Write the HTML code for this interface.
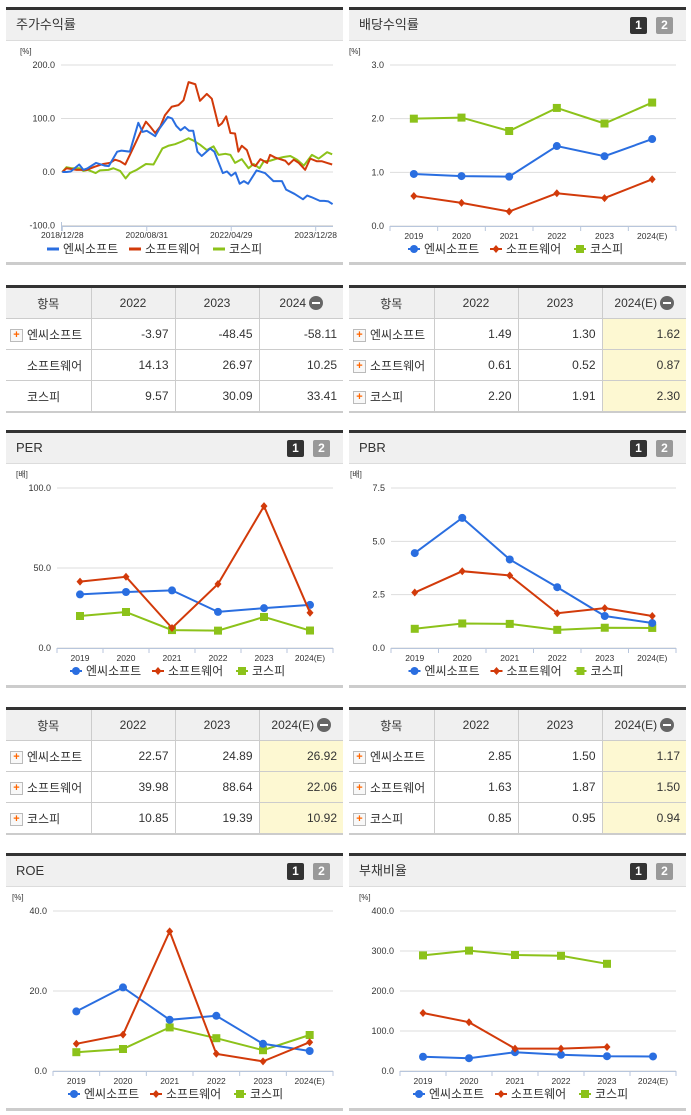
<!DOCTYPE html>
<html><head><meta charset="utf-8">
<style>
body{margin:0;width:691px;height:1115px;position:relative;background:#fff;font-family:"Liberation Sans","Noto Sans CJK KR",sans-serif;overflow:hidden}
.panel{position:absolute;width:337px;height:258px;border-top:3px solid #333;box-sizing:border-box}
.panel .hd{height:30px;background:#f0f0f0;border-bottom:1px solid #dcdcdc;font-size:13px;color:#333;line-height:30px;padding-left:10px;position:relative}
.panel .bt{position:absolute;bottom:0;left:0;right:0;height:3px;background:#ccc}
.btn{position:absolute;top:7px;width:17px;height:17px;font-size:12px;font-weight:bold;color:#fff;text-align:center;line-height:17px;border-radius:2px}
table{position:absolute;width:337px;border-collapse:collapse;table-layout:fixed;font-size:12px;color:#333;border-top:3px solid #333;border-bottom:2px solid #ccc}
th{background:#f0f0f0;font-weight:normal;height:30px;padding:0;border-left:1px solid #ccc;border-bottom:1px solid #ccc;white-space:nowrap}
td{height:30px;padding:0 6px 0 0;border-left:1px solid #ccc;border-bottom:1px solid #ccc;text-align:right;white-space:nowrap;overflow:visible}
th:first-child,td:first-child{border-left:none}
td:first-child{text-align:left;padding-left:4px;padding-right:0}
.hl{background:#fdf8d2}
.plus{display:inline-block;width:11px;height:11px;border:1px solid #bbb;background:#f8f8f8;color:#f60;font-size:11px;line-height:10px;text-align:center;font-weight:bold;vertical-align:middle;margin-right:4px}
.sp{display:inline-block;width:17px}
.minus{display:inline-block;width:14px;height:14px;border-radius:50%;background:#666;vertical-align:middle;position:relative;margin-left:3px}
.minus:after{content:"";position:absolute;left:3px;top:6px;width:8px;height:2px;background:#fff}
svg{position:absolute;left:0;top:0}
</style></head><body>
<div class="panel" style="left:6px;top:7px"><div class="hd">주가수익률</div><div class="bt"></div></div>
<div class="panel" style="left:349px;top:7px"><div class="hd">배당수익률<span class="btn" style="left:281px;background:#333">1</span><span class="btn" style="left:307px;background:#999">2</span></div><div class="bt"></div></div>
<div class="panel" style="left:6px;top:430px"><div class="hd">PER<span class="btn" style="left:281px;background:#333">1</span><span class="btn" style="left:307px;background:#999">2</span></div><div class="bt"></div></div>
<div class="panel" style="left:349px;top:430px"><div class="hd">PBR<span class="btn" style="left:281px;background:#333">1</span><span class="btn" style="left:307px;background:#999">2</span></div><div class="bt"></div></div>
<div class="panel" style="left:6px;top:853px"><div class="hd">ROE<span class="btn" style="left:281px;background:#333">1</span><span class="btn" style="left:307px;background:#999">2</span></div><div class="bt"></div></div>
<div class="panel" style="left:349px;top:853px"><div class="hd">부채비율<span class="btn" style="left:281px;background:#333">1</span><span class="btn" style="left:307px;background:#999">2</span></div><div class="bt"></div></div>

<table style="left:6px;top:285px">
<colgroup><col style="width:85px"><col style="width:84px"><col style="width:84px"><col style="width:84px"></colgroup>
<tr><th>항목</th><th>2022</th><th>2023</th><th>2024<span class="minus"></span></th></tr>
<tr><td><span class="plus">+</span>엔씨소프트</td><td>-3.97</td><td>-48.45</td><td>-58.11</td></tr>
<tr><td><span class="sp"></span>소프트웨어</td><td>14.13</td><td>26.97</td><td>10.25</td></tr>
<tr><td><span class="sp"></span>코스피</td><td>9.57</td><td>30.09</td><td>33.41</td></tr>
</table>
<table style="left:349px;top:285px">
<colgroup><col style="width:85px"><col style="width:84px"><col style="width:84px"><col style="width:84px"></colgroup>
<tr><th>항목</th><th>2022</th><th>2023</th><th>2024(E)<span class="minus"></span></th></tr>
<tr><td><span class="plus">+</span>엔씨소프트</td><td>1.49</td><td>1.30</td><td class="hl">1.62</td></tr>
<tr><td><span class="plus">+</span>소프트웨어</td><td>0.61</td><td>0.52</td><td class="hl">0.87</td></tr>
<tr><td><span class="plus">+</span>코스피</td><td>2.20</td><td>1.91</td><td class="hl">2.30</td></tr>
</table>
<table style="left:6px;top:707px">
<colgroup><col style="width:85px"><col style="width:84px"><col style="width:84px"><col style="width:84px"></colgroup>
<tr><th>항목</th><th>2022</th><th>2023</th><th>2024(E)<span class="minus"></span></th></tr>
<tr><td><span class="plus">+</span>엔씨소프트</td><td>22.57</td><td>24.89</td><td class="hl">26.92</td></tr>
<tr><td><span class="plus">+</span>소프트웨어</td><td>39.98</td><td>88.64</td><td class="hl">22.06</td></tr>
<tr><td><span class="plus">+</span>코스피</td><td>10.85</td><td>19.39</td><td class="hl">10.92</td></tr>
</table>
<table style="left:349px;top:707px">
<colgroup><col style="width:85px"><col style="width:84px"><col style="width:84px"><col style="width:84px"></colgroup>
<tr><th>항목</th><th>2022</th><th>2023</th><th>2024(E)<span class="minus"></span></th></tr>
<tr><td><span class="plus">+</span>엔씨소프트</td><td>2.85</td><td>1.50</td><td class="hl">1.17</td></tr>
<tr><td><span class="plus">+</span>소프트웨어</td><td>1.63</td><td>1.87</td><td class="hl">1.50</td></tr>
<tr><td><span class="plus">+</span>코스피</td><td>0.85</td><td>0.95</td><td class="hl">0.94</td></tr>
</table>

<svg id="sv" width="691" height="1115" xmlns="http://www.w3.org/2000/svg"></svg>
<script>
// ---- stock return time series (x = months since 2018/12/28) ----
const ncMonths=[0,1,2,4,5,6,8,10,11,13,14,16,18,19,20,22,23,25,26,27,28,29,30,31,32,33,35,36,38,39,40,41,42,43,44,46,48,50,52,53,55,57,58,59,61,62,63,64];
const ncValues=[0,0,1,14,4,7,17,12,11,38,40,38,92,75,77,67,81,103,100,86,78,84,77,77,38,30,44,38,-2,1,-7,-1,-22,-17,-22,3,-2,-17,-17,-33,-41,-51,-44,-47,-54,-54,-55,-60];
const swMonths=[0,1,3.4,5.8,7.7,9.7,11.3,12.5,13.7,14.9,16,18.4,19.8,20.8,22,23.2,24.3,25.9,27.5,28.7,29.9,31.5,32.6,34.2,35.4,37,37.8,38.8,39.8,40.9,41.7,42.5,43.7,44.9,45.7,46.9,48.5,49.2,50.4,51.6,52.8,53.6,54.8,56,57.5,58.7,60.3,61.5,62.7,63.9];
const swValues=[0,7,4,4,10,15,17,23,20,14,32,72,94,85,73,85,106,122,125,134,168,164,133,146,137,86,91,104,73,72,38,49,41,14,11,24,17,32,27,24,21,14,23,17,4,25,20,20,17,14];
const kpMonths=[0,1,2.2,4,5,6,7.9,8.9,10.9,12.1,13.7,15,16,17.6,19.8,21.6,23.7,25.1,26.7,28.3,29.9,31,32.6,34.2,35.8,37,38.6,39.8,40.9,42.5,44.1,45.3,46.7,47.7,49.2,50.8,52.4,54,55.6,57.2,59.1,60.7,62.7,63.9];
const kpValues=[0,9,7,7,2,4,-2,3,4,7,2,-12,-2,4,15,14,44,49,52,57,63,59,51,41,48,32,34,32,17,24,7,15,7,20,21,25,28,30,23,12,32,25,37,33];
const dateTicks=["2018/12/28","2020/08/31","2022/04/29","2023/12/28"];
const dateTickMonths=[0,20,40,60];
const retTicks=[-100,0,100,200];
// ---- annual category charts ----
const years=["2019","2020","2021","2022","2023","2024(E)"];
const divNc=[0.97,0.93,0.92,1.49,1.30,1.62];
const divSw=[0.56,0.43,0.27,0.61,0.52,0.87];
const divKp=[2.00,2.02,1.77,2.20,1.91,2.30];
const divTicks=[0,1,2,3];
const perNc=[33.5,35,36,22.57,24.89,26.92];
const perSw=[41.5,44.5,12.5,39.98,88.64,22.06];
const perKp=[20,22.5,11.2,10.85,19.39,10.92];
const perTicks=[0,50,100];
const pbrNc=[4.45,6.1,4.15,2.85,1.50,1.17];
const pbrSw=[2.6,3.6,3.4,1.63,1.87,1.50];
const pbrKp=[0.9,1.15,1.13,0.85,0.95,0.94];
const pbrTicks=[0,2.5,5,7.5];
const roeNc=[14.9,20.9,12.8,13.8,6.8,5.0];
const roeSw=[6.8,9.1,34.9,4.3,2.4,7.2];
const roeKp=[4.7,5.5,10.9,8.2,5.2,9.0];
const roeTicks=[0,20,40];
const debtNc=[35.6,32,47,40.6,37,36.4];
const debtSw=[145,122,56,56,60,null];
const debtKp=[289,301,290,288,268,null];
const debtTicks=[0,100,200,300,400];

const NS="http://www.w3.org/2000/svg";
const sv=document.getElementById('sv');
const C={nc:'#2a6ee0',sw:'#d23a0a',kp:'#8cc21a'};
function mk(tag,attrs,parent){const e=document.createElementNS(NS,tag);for(const k in attrs)e.setAttribute(k,attrs[k]);(parent||sv).appendChild(e);return e;}
function txt(x,y,s,size,anchor,fill,parent){const t=mk('text',{x:x,y:y,'font-size':size,'text-anchor':anchor||'start',fill:fill||'#333','font-family':'"Liberation Sans","Noto Sans CJK KR",sans-serif'},parent);t.textContent=s;return t;}
function fmt(v){return v.toFixed(1);}
function axisY(g,xL,xR,yScale,ticks,unit,yTop){
  ticks.forEach(v=>{const y=yScale(v);
    const l=mk('line',{x1:xL,x2:xR,y1:y,y2:y,stroke:'#ddd','stroke-width':1},g);
    
    
    const t=txt(xL-6,y+3,fmt(v),9,'end','#333',g);
    
    
  });
  const u=txt(xL-41,yTop-11,unit,8,'start','#333',g);
  
  
}
function marker(g,type,x,y){
  let m;
  if(type==='nc')m=mk('circle',{cx:x,cy:y,r:4,fill:C.nc},g);
  else if(type==='sw')m=mk('path',{d:`M${x} ${y-4}L${x+3.5} ${y}L${x} ${y+4}L${x-3.5} ${y}Z`,fill:C.sw},g);
  else m=mk('rect',{x:x-4,y:y-4,width:8,height:8,fill:C.kp},g);
  return m;
}
function legend(g,cx,y,withMarkers){
  const items=[['nc','엔씨소프트'],['sw','소프트웨어'],['kp','코스피']];
  const widths=[82,84,56];let total=widths.reduce((a,b)=>a+b,0);let x=cx-total/2;
  items.forEach((it,i)=>{
    const lg=mk('g',{},g);
    
    
    mk('line',{x1:x,x2:x+12,y1:y-4,y2:y-4,stroke:C[it[0]],'stroke-width':withMarkers?2:3},lg);
    if(withMarkers)marker(lg,it[0],x+6,y-4);
    txt(x+16,y,it[1],12,'start','#333',lg);
    x+=widths[i];
  });
}
function catChart(name,cfg){
  const g=mk('g',{});
  
  
  const {xL,xR,y0,yT,max,ticks,unit,series}=cfg;
  const ys=v=>y0-(v/max)*(y0-yT);
  const step=(xR-xL)/years.length;
  const xs=i=>xL+(i+0.5)*step;
  axisY(g,xL,xR,ys,ticks,unit,yT);
  mk('line',{x1:xL,x2:xR,y1:y0+0.5,y2:y0+0.5,stroke:'#b8c6dc','stroke-width':1},g);
  for(let i=0;i<=years.length;i++){const x=xL+i*step;mk('line',{x1:x,x2:x,y1:y0,y2:y0+5,stroke:'#b8c6dc'},g);}
  years.forEach((yy,i)=>{const t=txt(xs(i),y0+13,yy,8.5,'middle','#333',g);
    
    });
  series.forEach(([key,vals])=>{
    const pts=[];vals.forEach((v,i)=>{if(v!==null)pts.push([xs(i),ys(v)]);});
    const p=mk('polyline',{points:pts.map(p=>p.join(',')).join(' '),fill:'none',stroke:C[key],'stroke-width':2},g);
    
    
    pts.forEach(pt=>{const m=marker(g,key,pt[0],pt[1]);
      
      });
  });
  legend(g,(xL+xR)/2-14,y0+27,true);
}
// stock return chart
(function(){
  const g=mk('g',{});
  
  
  const xL=61,xR=333,m0=62.3,mPer=(315.7-62.3)/60;
  const ys=v=>172-v*0.535;
  const xs=m=>m0+m*mPer;
  axisY(g,xL,xR,ys,retTicks,'[%]',65);
  mk('line',{x1:xL,x2:xR,y1:226.5,y2:226.5,stroke:'#b8c6dc'},g);
  mk('line',{x1:xL+0.5,x2:xL+0.5,y1:222,y2:231,stroke:'#b8c6dc'},g);
  dateTickMonths.forEach((m,i)=>{const x=xs(m);mk('line',{x1:x,x2:x,y1:226,y2:231,stroke:'#b8c6dc'},g);
    const t=txt(x,238,dateTicks[i],8.5,'middle','#333',g);
    
    });
  [['kp',kpMonths,kpValues],['sw',swMonths,swValues],['nc',ncMonths,ncValues]].forEach(([k,ms,vs])=>{
    const p=mk('polyline',{points:ms.map((m,i)=>xs(m)+','+ys(vs[i])).join(' '),fill:'none',stroke:C[k],'stroke-width':2,'stroke-linejoin':'round'},g);
    
    
  });
  legend(g,158,253,false);
})();
catChart('dividend-chart',{xL:390,xR:676,y0:226,yT:65,max:3,ticks:divTicks,unit:'[%]',series:[['kp',divKp],['nc',divNc],['sw',divSw]]});
catChart('per-chart',{xL:57,xR:333,y0:648,yT:488,max:100,ticks:perTicks,unit:'[배]',series:[['kp',perKp],['nc',perNc],['sw',perSw]]});
catChart('pbr-chart',{xL:391,xR:676,y0:648,yT:488,max:7.5,ticks:pbrTicks,unit:'[배]',series:[['kp',pbrKp],['nc',pbrNc],['sw',pbrSw]]});
catChart('roe-chart',{xL:53,xR:333,y0:1071,yT:911,max:40,ticks:roeTicks,unit:'[%]',series:[['kp',roeKp],['nc',roeNc],['sw',roeSw]]});
catChart('debt-ratio-chart',{xL:400,xR:676,y0:1071,yT:911,max:400,ticks:debtTicks,unit:'[%]',series:[['kp',debtKp],['nc',debtNc],['sw',debtSw]]});
</script>
</body></html>
